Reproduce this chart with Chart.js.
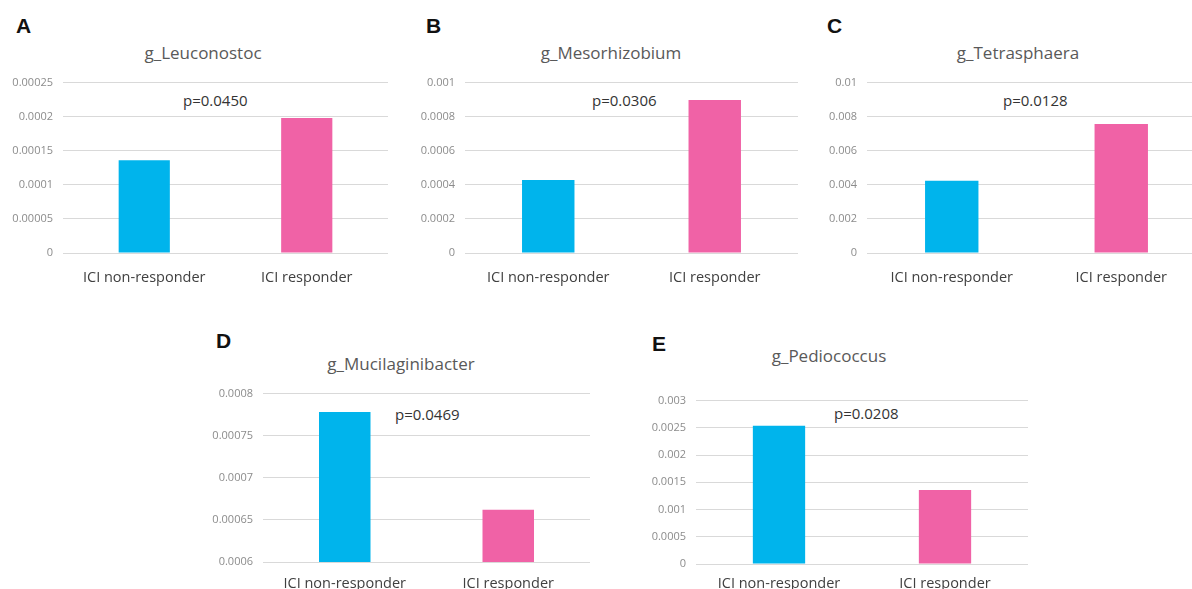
<!DOCTYPE html>
<html>
<head>
<meta charset="utf-8">
<script src="https://cdn.jsdelivr.net/npm/chart.js@4.4.1/dist/chart.umd.min.js"></script>
<style>
  html, body { margin: 0; padding: 0; background: #fff; }
  body { width: 1192px; height: 589px; overflow: hidden; position: relative; font-family: "Open Sans", "Noto Sans", sans-serif; }
  .box { position: absolute; }
  .letter { position: absolute; font-family: "Liberation Sans", Arial, sans-serif; font-weight: bold; font-size: 21px; line-height: 1; color: #111; }
  .title { position: absolute; font-size: 17px; color: #595959; transform: translate(-50%, -50%); white-space: nowrap; }
  .pval { position: absolute; font-size: 15px; color: #333; transform: translateY(-50%); white-space: nowrap; }
</style>
</head>
<body>

<div class="letter" style="left:16px; top:15px;">A</div>
<div class="letter" style="left:426px; top:15px;">B</div>
<div class="letter" style="left:827px; top:15px;">C</div>
<div class="letter" style="left:216px; top:330px;">D</div>
<div class="letter" style="left:652px; top:333px;">E</div>

<div class="title" style="left:203px; top:52px;">g_Leuconostoc</div>
<div class="title" style="left:611px; top:52px;">g_Mesorhizobium</div>
<div class="title" style="left:1018px; top:52px;">g_Tetrasphaera</div>
<div class="title" style="left:401px; top:363px;">g_Mucilaginibacter</div>
<div class="title" style="left:829px; top:355px;">g_Pediococcus</div>

<div class="pval" style="left:183px; top:100px;">p=0.0450</div>
<div class="pval" style="left:592px; top:100px;">p=0.0306</div>
<div class="pval" style="left:1003px; top:100px;">p=0.0128</div>
<div class="pval" style="left:395px; top:414px;">p=0.0469</div>
<div class="pval" style="left:834px; top:413px;">p=0.0208</div>

<canvas id="chart-a" class="box" style="left:0px; top:66px;" width="395" height="230"></canvas>
<canvas id="chart-b" class="box" style="left:400px; top:66px;" width="400" height="230"></canvas>
<canvas id="chart-c" class="box" style="left:800px; top:66px;" width="420" height="230"></canvas>
<canvas id="chart-d" class="box" style="left:200px; top:377px;" width="395" height="230"></canvas>
<canvas id="chart-e" class="box" style="left:630px; top:384px;" width="405" height="230"></canvas>

<script>
// categorias (iguais em todos os painéis)
const groups = ['ICI non-responder', 'ICI responder'];

// valores
const leuconostoc = [0.000136, 0.000198];
const mesorhizobium = [0.000429, 0.000898];
const tetrasphaera = [0.00424, 0.00757];
const mucilaginibacter = [0.000778, 0.000662];
const pediococcus = [0.00254, 0.00136];

// ticks do eixo y (valores e rótulos)
const ticksA = [0, 0.00005, 0.0001, 0.00015, 0.0002, 0.00025];
const labelsA = ['0', '0.00005', '0.0001', '0.00015', '0.0002', '0.00025'];
const ticksB = [0, 0.0002, 0.0004, 0.0006, 0.0008, 0.001];
const labelsB = ['0', '0.0002', '0.0004', '0.0006', '0.0008', '0.001'];
const ticksC = [0, 0.002, 0.004, 0.006, 0.008, 0.01];
const labelsC = ['0', '0.002', '0.004', '0.006', '0.008', '0.01'];
const ticksD = [0.0006, 0.00065, 0.0007, 0.00075, 0.0008];
const labelsD = ['0.0006', '0.00065', '0.0007', '0.00075', '0.0008'];
const ticksE = [0, 0.0005, 0.001, 0.0015, 0.002, 0.0025, 0.003];
const labelsE = ['0', '0.0005', '0.001', '0.0015', '0.002', '0.0025', '0.003'];

const barColors = ['#00b4ec', '#f062a6'];

function makeChart(id, values, tickVals, tickLabels, axisWidth, rightPad, plotHeight, labelPad) {
    const ctx = document.getElementById(id).getContext('2d');
    const canvasH = ctx.canvas.height;
    return new Chart(ctx, {
        type: 'bar',
        data: {
            labels: groups,
            datasets: [{
                data: values,
                backgroundColor: barColors,
                borderWidth: 0,
                barPercentage: 0.315,
                categoryPercentage: 1
            }]
        },
        options: {
            responsive: false,
            animation: false,
            layout: { padding: { top: 10, right: rightPad, left: 0, bottom: 0 } },
            plugins: {
                legend: { display: false },
                tooltip: { enabled: false }
            },
            scales: {
                x: {
                    grid: { display: false },
                    border: { display: false },
                    ticks: {
                        color: '#404040',
                        padding: labelPad,
                        maxRotation: 0,
                        font: { family: '"Open Sans", "Noto Sans", sans-serif', size: 14.5 }
                    },
                    afterFit: s => { s.height = canvasH - 10 - plotHeight; }
                },
                y: {
                    min: tickVals[0],
                    max: tickVals[tickVals.length - 1],
                    border: { display: false },
                    grid: { color: '#d9d9d9', lineWidth: 1, drawTicks: false },
                    ticks: {
                        color: '#8c8c8c',
                        padding: 10,
                        font: { family: '"Open Sans", "Noto Sans", sans-serif', size: 11 },
                        callback: (v, i) => tickLabels[i]
                    },
                    afterBuildTicks: s => { s.ticks = tickVals.map(v => ({ value: v })); },
                    afterFit: s => { s.width = axisWidth; }
                }
            }
        }
    });
}

makeChart('chart-a', leuconostoc, ticksA, labelsA, 63, 7, 177, 8);
makeChart('chart-b', mesorhizobium, ticksB, labelsB, 65, 2, 177, 8);
makeChart('chart-c', tetrasphaera, ticksC, labelsC, 67, 14, 177, 8);
makeChart('chart-d', mucilaginibacter, ticksD, labelsD, 63, 5, 175, 5);
makeChart('chart-e', pediococcus, ticksE, labelsE, 66, 7, 170, 3);
</script>
</body>
</html>
